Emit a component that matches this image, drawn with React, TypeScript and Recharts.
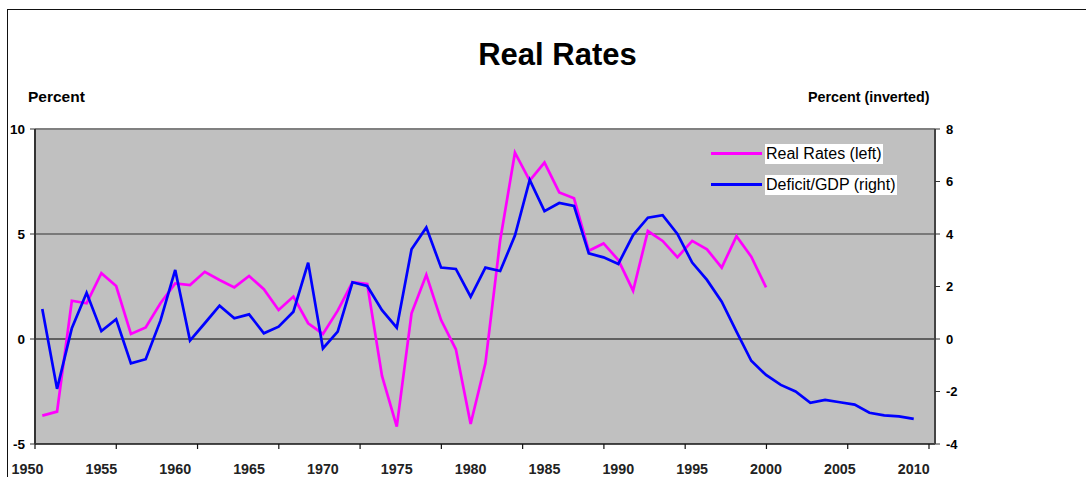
import {
  ComposedChart,
  Line,
  XAxis,
  YAxis,
  ReferenceArea,
  ReferenceLine,
} from 'recharts';

// ---------------------------------------------------------------------------
// Data
// ---------------------------------------------------------------------------

const years = [
  1951, 1952, 1953, 1954, 1955, 1956, 1957, 1958, 1959, 1960,
  1961, 1962, 1963, 1964, 1965, 1966, 1967, 1968, 1969, 1970,
  1971, 1972, 1973, 1974, 1975, 1976, 1977, 1978, 1979, 1980,
  1981, 1982, 1983, 1984, 1985, 1986, 1987, 1988, 1989, 1990,
  1991, 1992, 1993, 1994, 1995, 1996, 1997, 1998, 1999, 2000,
  2001, 2002, 2003, 2004, 2005, 2006, 2007, 2008, 2009, 2010,
];

// Real rates, percent (left axis), 1951-2000
const realRates = [
  -3.65, -3.46, 1.82, 1.7, 3.13, 2.52, 0.24, 0.55, 1.7, 2.65,
  2.57, 3.2, 2.81, 2.46, 3.0, 2.37, 1.38, 2.02, 0.75, 0.24,
  1.35, 2.7, 2.62, -1.76, -4.17, 1.22, 3.06, 0.9, -0.49, -4.05,
  -1.16, 4.7, 8.87, 7.54, 8.4, 6.98, 6.7, 4.2, 4.55, 3.76,
  2.3, 5.14, 4.67, 3.89, 4.67, 4.27, 3.4, 4.9, 3.92, 2.46,
];

// Deficit/GDP, percent (right axis), 1951-2010
const deficitGdp = [
  1.14, -1.9, 0.41, 1.76, 0.3, 0.75, -0.93, -0.77, 0.7, 2.63,
  -0.06, 0.6, 1.27, 0.79, 0.94, 0.22, 0.47, 1.04, 2.91, -0.36,
  0.28, 2.16, 2.02, 1.1, 0.43, 3.42, 4.25, 2.72, 2.67, 1.61,
  2.72, 2.59, 3.94, 6.06, 4.87, 5.18, 5.07, 3.26, 3.11, 2.86,
  3.96, 4.62, 4.72, 4.0, 2.91, 2.25, 1.42, 0.28, -0.83, -1.37,
  -1.75, -2.0, -2.43, -2.32, -2.41, -2.5, -2.81, -2.91, -2.95, -3.04,
];

const yearLabels = [1950, 1955, 1960, 1965, 1970, 1975, 1980, 1985, 1990, 1995, 2000, 2005, 2010];
const leftTicks = [-5, 0, 5, 10];
const rightTicks = [-4, -2, 0, 2, 4, 6, 8];

const series = [
  { key: 'real', name: 'Real Rates (left)', color: '#FF00FF' },
  { key: 'deficit', name: 'Deficit/GDP (right)', color: '#0000FF' },
];

// ---------------------------------------------------------------------------
// Layout
// ---------------------------------------------------------------------------

const FONT = '"Liberation Sans", Arial, sans-serif';
const X_MIN = 1950.506;
const X_MAX = 2011.44;
// the original's category tick marks sit every ~5.5 years, independent of labels
const TICK_STEP = 5.5025;
const tickMarks = Array.from({ length: 12 }, (_, k) => X_MIN + k * TICK_STEP);

const chartData = years.map((y, i) => ({
  year: y,
  real: i < realRates.length ? realRates[i] : null,
  deficit: deficitGdp[i],
}));

function LegendBox() {
  return (
    <div style={{ position: 'absolute', left: 711, top: 138, fontFamily: FONT, fontSize: 16, color: '#000' }}>
      {series.map((s) => (
        <div key={s.key} style={{ display: 'flex', alignItems: 'center', height: 31 }}>
          <div style={{ width: 51, height: 3, background: s.color, marginRight: 3 }} />
          <span style={{ background: '#fff', lineHeight: '20px', padding: '0 1px' }}>{s.name}</span>
        </div>
      ))}
    </div>
  );
}

// empty label for the tick-mark-only axis
const NoLabel = () => <g />;

export default function App() {
  return (
    <div style={{ position: 'absolute', left: 0, top: 0, width: 1086, height: 477, background: '#fff', overflow: 'hidden' }}>
      {/* outer frame */}
      <div style={{ position: 'absolute', left: 7, top: 9, width: 1200, height: 600, borderTop: '1.5px solid #111', borderLeft: '1.5px solid #111' }} />

      <div style={{ position: 'absolute', left: 0, width: 1086, top: 37, textAlign: 'center', fontFamily: FONT, fontWeight: 'bold', fontSize: 31, paddingLeft: 29, boxSizing: 'border-box' }}>
        Real Rates
      </div>
      <div style={{ position: 'absolute', left: 28, top: 88, fontFamily: FONT, fontWeight: 'bold', fontSize: 15.5 }}>
        Percent
      </div>
      <div style={{ position: 'absolute', left: 808, top: 89, fontFamily: FONT, fontWeight: 'bold', fontSize: 14.3 }}>
        Percent (inverted)
      </div>

      <div style={{ position: 'absolute', left: 0, top: 0 }}>
        <ComposedChart
          width={1086}
          height={477}
          data={chartData}
          margin={{ top: 129, right: 111, left: 0, bottom: 0 }}
        >
          <XAxis
            xAxisId="marks"
            dataKey="year"
            type="number"
            domain={[X_MIN, X_MAX]}
            ticks={tickMarks}
            interval={0}
            height={1}
            tickSize={5}
            tick={NoLabel}
            axisLine={{ stroke: '#111', strokeWidth: 1.5 }}
            tickLine={{ stroke: '#111', strokeWidth: 1.2 }}
            allowDataOverflow
          />
          <XAxis
            xAxisId="years"
            dataKey="year"
            type="number"
            domain={[X_MIN, X_MAX]}
            ticks={yearLabels}
            interval={0}
            height={32}
            axisLine={false}
            tickLine={false}
            tickSize={0}
            tickMargin={19}
            tick={{ fontSize: 14.3, fontWeight: 'bold', fill: '#222', fontFamily: FONT }}
            allowDataOverflow
          />
          <YAxis
            yAxisId="left"
            orientation="left"
            domain={[-5, 10]}
            ticks={leftTicks}
            width={35}
            tickSize={5}
            tickMargin={5}
            axisLine={{ stroke: '#333', strokeWidth: 2 }}
            tickLine={{ stroke: '#333' }}
            tick={{ fontSize: 13.5, fontWeight: 'bold', fill: '#000', fontFamily: FONT }}
            allowDataOverflow
          />
          <YAxis
            yAxisId="right"
            orientation="right"
            domain={[-4, 8]}
            ticks={rightTicks}
            width={40}
            tickSize={5}
            tickMargin={6}
            axisLine={{ stroke: '#444', strokeWidth: 2 }}
            tickLine={{ stroke: '#333' }}
            tick={{ fontSize: 13, fontWeight: 'bold', fill: '#000', fontFamily: FONT, textAnchor: 'start' }}
            allowDataOverflow
          />

          <ReferenceArea
            xAxisId="years"
            yAxisId="left"
            x1={X_MIN}
            x2={X_MAX}
            y1={-5}
            y2={10}
            fill="#C0C0C0"
            fillOpacity={1}
            stroke="none"
            ifOverflow="visible"
          />
          <ReferenceLine xAxisId="years" yAxisId="left" y={10} stroke="#808080" strokeWidth={2} />
          <ReferenceLine xAxisId="years" yAxisId="left" y={5} stroke="#333" strokeWidth={1} />
          <ReferenceLine xAxisId="years" yAxisId="left" y={0} stroke="#000" strokeWidth={1} />

          <Line
            xAxisId="years"
            yAxisId="left"
            dataKey="real"
            name={series[0].name}
            stroke={series[0].color}
            strokeWidth={2.7}
            dot={false}
            type="linear"
            isAnimationActive={false}
          />
          <Line
            xAxisId="years"
            yAxisId="right"
            dataKey="deficit"
            name={series[1].name}
            stroke={series[1].color}
            strokeWidth={2.7}
            dot={false}
            type="linear"
            isAnimationActive={false}
          />
        </ComposedChart>
      </div>

      <LegendBox />
    </div>
  );
}
